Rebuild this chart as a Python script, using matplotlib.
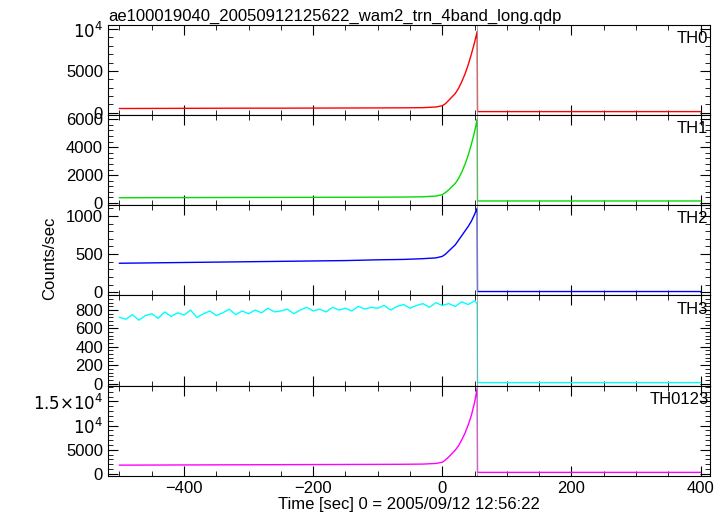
import matplotlib
matplotlib.use("Agg")
import matplotlib.pyplot as plt
from matplotlib.ticker import AutoMinorLocator, FixedLocator

plt.rcParams['font.family'] = ['Liberation Sans', 'DejaVu Sans']

t = [-500, -450, -400, -350, -300, -250, -200, -150, -100, -60, -30, -10, 0, 5, 10, 15, 20, 25, 30, 35, 40, 45, 50, 54, 54.5, 400]
th0 = [520, 530, 540, 550, 560, 560, 570, 580, 590, 600, 620, 700, 850, 1100, 1500, 1900, 2300, 2900, 3700, 4600, 5700, 7000, 8400, 9700, 150, 150]
th1 = [380, 385, 390, 395, 400, 405, 410, 415, 420, 430, 450, 500, 600, 760, 950, 1180, 1400, 1750, 2200, 2750, 3400, 4200, 5100, 6000, 150, 150]
th2 = [380, 385, 390, 395, 400, 405, 410, 415, 425, 430, 440, 450, 470, 500, 540, 580, 620, 680, 740, 800, 860, 930, 1020, 1100, 10, 10]
th3_t = [-500, -490, -480, -470, -460, -450, -440, -430, -420, -410, -400, -390, -380, -370, -360, -350, -340, -330, -320, -310,
         -300, -290, -280, -270, -260, -250, -240, -230, -220, -210, -200, -190, -180, -170, -160, -150, -140, -130, -120, -110,
         -100, -90, -80, -70, -60, -50, -40, -30, -20, -10, 0, 10, 20, 30, 40, 50, 54, 54.5, 400]
th3 = [720, 700, 750, 690, 740, 760, 710, 780, 730, 770, 745, 800, 720, 760, 790, 740, 770, 810, 750, 790,
       760, 800, 770, 820, 780, 790, 810, 760, 800, 830, 790, 810, 780, 830, 800, 820, 790, 840, 810, 830,
       820, 850, 800, 840, 860, 820, 850, 870, 830, 880, 850, 870, 840, 890, 860, 900, 870, 10, 10]
th0123 = [1800, 1820, 1840, 1860, 1880, 1900, 1920, 1940, 1960, 1980, 2020, 2150, 2400, 2900, 3500, 4200, 4900, 5800, 7000, 8400, 10100, 12100, 14800, 17800, 300, 300]

series = [(t, th0, "red", "TH0", (-250, 10500), [0, 5000, 10000], ["0", "5000", r"$10^4$"]),
          (t, th1, "#00dd00", "TH1", (-150, 6300), [0, 2000, 4000, 6000], ["0", "2000", "4000", "6000"]),
          (t, th2, "blue", "TH2", (-40, 1140), [0, 500, 1000], ["0", "500", "1000"]),
          (th3_t, th3, "cyan", "TH3", (-22, 960), [0, 200, 400, 600, 800], ["0", "200", "400", "600", "800"]),
          (t, th0123, "magenta", "TH0123", (-400, 18300), [0, 5000, 10000, 15000], ["0", "5000", r"$10^4$", r"$1.5{\times}10^4$"])]

fig, axes = plt.subplots(5, 1, figsize=(7.24, 5.16), dpi=100, sharex=True)
fig.subplots_adjust(left=0.149, right=0.981, top=0.952, bottom=0.078, hspace=0)
for ax, (x, y, c, lab, yl, yt, ytl) in zip(axes, series):
    ax.plot(x, y, color=c, lw=1)
    ax.axvline(54.3, color="#999999", lw=0.6)
    ax.set_ylim(*yl)
    ax.set_xlim(-518, 415)
    ax.yaxis.set_major_locator(FixedLocator(yt))
    ax.set_yticklabels(ytl, fontsize=12)
    ax.yaxis.set_minor_locator(AutoMinorLocator(5))
    ax.xaxis.set_minor_locator(AutoMinorLocator(4))
    ax.tick_params(which="both", direction="in", top=True, right=True)
    ax.tick_params(which="major", length=7)
    ax.tick_params(which="minor", length=3.5)
    ax.text(0.997, 0.93, lab, transform=ax.transAxes, ha="right", va="top", fontsize=12)
axes[-1].set_xticks([-400, -200, 0, 200, 400])
axes[-1].tick_params(axis="x", labelsize=12)
axes[-1].set_xlabel("Time [sec] 0 = 2005/09/12 12:56:22", fontsize=12, labelpad=1)
fig.text(0.068, 0.5, "Counts/sec", rotation=90, va="center", ha="center", fontsize=12)
axes[0].set_title("ae100019040_20050912125622_wam2_trn_4band_long.qdp", loc="left", fontsize=12, pad=3)
fig.savefig("out.png", dpi=100)
